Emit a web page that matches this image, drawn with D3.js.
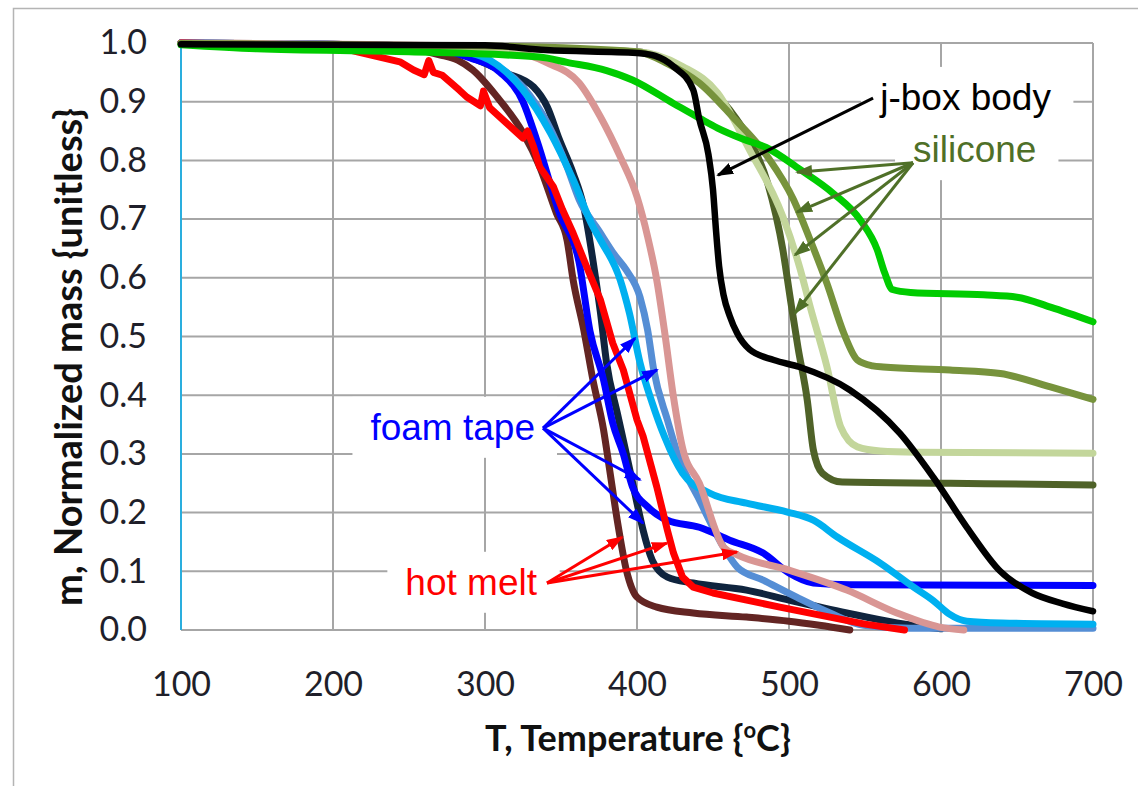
<!DOCTYPE html>
<html>
<head>
<meta charset="utf-8">
<script src="https://cdn.jsdelivr.net/npm/d3@7"></script>
<style>
  body { margin: 0; background: #fff; }
  svg { display: block; }
</style>
</head>
<body>
<div id="chart"></div>
<script>

// constants for plot design
const FRAME_WIDTH = 1138;
const FRAME_HEIGHT = 786;
const MARGINS = {left: 181, right: 45, top: 43, bottom: 156};

const VIS_WIDTH = FRAME_WIDTH - MARGINS.left - MARGINS.right;
const VIS_HEIGHT = FRAME_HEIGHT - MARGINS.top - MARGINS.bottom;

// tick values
const xTicks = [100, 200, 300, 400, 500, 600, 700];
const yTicks = [0, 0.1, 0.2, 0.3, 0.4, 0.5, 0.6, 0.7, 0.8, 0.9, 1.0];

// series: [T in °C, normalized mass]
const siliconeGreen = [[100,0.997],[150,0.99],[250,0.985],[336,0.976],[354,0.967],[380,0.953],[397,0.937],[424,0.897],
  [441,0.872],[453,0.855],[470,0.836],[485,0.822],[507,0.785],[529,0.744],[547,0.698],[558,0.648],[563,0.608],
  [568,0.58],[580,0.575],[628,0.571],[650,0.567],[672,0.55],[700,0.525]];
const siliconeOlive = [[100,0.999],[300,0.995],[400,0.985],[420,0.965],[441,0.932],[463,0.874],[486,0.806],[503,0.733],
  [514,0.664],[525,0.59],[536,0.506],[545,0.46],[555,0.45],[562,0.448],[606,0.443],[639,0.437],[672,0.414],[700,0.393]];
const siliconeLight = [[100,0.999],[400,0.985],[430,0.96],[453,0.915],[474,0.818],[496,0.704],[507,0.618],[514,0.55],
  [525,0.448],[534,0.346],[545,0.312],[560,0.305],[584,0.303],[700,0.301]];
const siliconeDark = [[100,0.999],[400,0.985],[425,0.96],[441,0.937],[461,0.886],[474,0.835],[486,0.761],[496,0.647],
  [501,0.562],[506,0.48],[512,0.392],[516,0.307],[522,0.267],[535,0.252],[606,0.25],[700,0.247]];
const jboxBody = [[100,0.998],[300,0.996],[340,0.988],[400,0.983],[412,0.978],[424,0.96],[437,0.92],[441,0.87],
  [447,0.81],[450,0.75],[452,0.68],[454,0.62],[457,0.57],[461,0.535],[466,0.505],[474,0.478],[490,0.46],[507,0.448],
  [540,0.409],[573,0.335],[595,0.26],[617,0.175],[639,0.1],[660,0.063],[680,0.045],[700,0.032]];
const foamBlue = [[100,1.0],[250,0.995],[290,0.975],[310,0.95],[325,0.9],[334,0.835],[349,0.71],[362,0.625],[369,0.51],
  [378,0.426],[384,0.353],[391,0.3],[397,0.244],[407,0.21],[420,0.187],[441,0.175],[461,0.153],[483,0.131],[500,0.097],
  [516,0.08],[540,0.077],[700,0.076]];
const foamLightBlue = [[100,1.0],[250,0.995],[280,0.988],[303,0.971],[325,0.92],[343,0.847],[358,0.767],[371,0.687],
  [376,0.664],[389,0.596],[395,0.54],[402,0.455],[410,0.387],[418,0.33],[430,0.267],[448,0.233],[472,0.216],[499,0.201],
  [516,0.187],[532,0.158],[560,0.114],[582,0.073],[595,0.05],[605,0.028],[617,0.015],[640,0.012],[700,0.01]];
const foamCornflower = [[100,1.0],[250,0.995],[280,0.985],[299,0.971],[325,0.925],[341,0.864],[354,0.789],[362,0.733],
  [375,0.68],[385,0.64],[393,0.613],[402,0.567],[407,0.511],[411,0.443],[420,0.358],[428,0.29],[440,0.227],[457,0.141],
  [466,0.107],[483,0.085],[505,0.056],[527,0.029],[549,0.008],[580,0.003],[700,0.003]];
const foamNavy = [[100,1.0],[250,0.995],[270,0.99],[290,0.976],[314,0.949],[332,0.925],[341,0.891],[349,0.835],[358,0.778],
  [365,0.72],[371,0.63],[376,0.54],[380,0.455],[387,0.37],[393,0.3],[400,0.216],[404,0.17],[410,0.119],[420,0.09],
  [437,0.08],[472,0.068],[500,0.051],[538,0.029],[571,0.012],[600,0.002]];
const meltRed = [[100,1.0],[200,0.995],[216,0.985],[244,0.968],[253,0.954],[260,0.946],[263,0.97],[266,0.95],[272,0.945],
  [283,0.92],[288,0.908],[297,0.893],[299,0.918],[303,0.89],[314,0.864],[325,0.838],[328,0.85],[332,0.823],[336,0.789],
  [345,0.755],[351,0.716],[358,0.676],[367,0.618],[376,0.562],[384,0.489],[391,0.443],[400,0.358],[404,0.33],[413,0.244],
  [420,0.17],[424,0.131],[430,0.09],[437,0.073],[450,0.063],[494,0.039],[527,0.022],[550,0.01],[576,0.0]];
const meltBrown = [[100,1.0],[200,0.998],[250,0.99],[270,0.98],[282,0.971],[292,0.954],[308,0.908],[325,0.847],[336,0.789],
  [347,0.71],[354,0.664],[358,0.596],[365,0.511],[371,0.426],[378,0.341],[382,0.273],[387,0.187],[393,0.102],[400,0.056],
  [413,0.039],[437,0.029],[472,0.022],[500,0.015],[520,0.008],[540,0.0]];
const meltPink = [[100,1.0],[280,0.995],[315,0.988],[341,0.966],[362,0.932],[376,0.874],[389,0.806],[400,0.738],[407,0.67],
  [413,0.596],[418,0.511],[424,0.397],[430,0.31],[441,0.25],[457,0.141],[466,0.128],[500,0.102],[538,0.068],[571,0.029],
  [599,0.005],[615,0.0]];

// drawing order, bottom to top
const series = [
  {data: foamNavy, color: "#0f243e"},
  {data: meltBrown, color: "#632523"},
  {data: foamCornflower, color: "#558ed5"},
  {data: foamBlue, color: "#0000ff"},
  {data: foamLightBlue, color: "#00b0f0"},
  {data: meltPink, color: "#d99694"},
  {data: meltRed, color: "#ff0000", jagged: true},
  {data: siliconeDark, color: "#4f6228"},
  {data: siliconeLight, color: "#c3d69b"},
  {data: siliconeOlive, color: "#77933c"},
  {data: siliconeGreen, color: "#00cc00"},
  {data: jboxBody, color: "#000000"}
];

// callouts in data coordinates: text anchor + arrow start + arrow tips
const callouts = [
  {text: "foam tape", color: "#0000ff", anchor: "end", at: [332.9, 0.324], from: [338.2, 0.344],
   to: [[398.7, 0.497], [413.2, 0.443], [402, 0.256], [404, 0.182]]},
  {text: "hot melt", color: "#ff0000", anchor: "end", at: [334.2, 0.06], from: [340.8, 0.08],
   to: [[390.1, 0.158], [419.7, 0.148], [465.8, 0.133]]},
  {text: "j-box body", color: "#000000", anchor: "start", at: [560, 0.886], from: [555.3, 0.906],
   to: [[453.3, 0.775]]},
  {text: "silicone", color: "#4f7028", anchor: "start", at: [581.6, 0.797], from: [581.6, 0.796],
   to: [[505.3, 0.78], [505.3, 0.712], [504, 0.639], [504, 0.54]]}
];

// scales
const xScale = d3.scaleLinear().domain([100, 700]).range([0, VIS_WIDTH]);
const yScale = d3.scaleLinear().domain([0, 1]).range([VIS_HEIGHT, 0]);

const svg = d3.select("#chart")
  .append("svg")
    .attr("width", FRAME_WIDTH)
    .attr("height", FRAME_HEIGHT);

// outer chart frame (top and left edges visible)
svg.append("path")
  .attr("d", "M13.5," + FRAME_HEIGHT + "V8.5H" + FRAME_WIDTH)
  .attr("fill", "none")
  .attr("stroke", "#b4b4b4")
  .attr("stroke-width", 1.5);

const plot = svg.append("g")
  .attr("transform", "translate(" + MARGINS.left + "," + MARGINS.top + ")");

// gridlines
plot.append("g")
  .selectAll("line")
  .data(xTicks)
  .join("line")
    .attr("x1", d => xScale(d)).attr("x2", d => xScale(d))
    .attr("y1", 0).attr("y2", VIS_HEIGHT)
    .attr("stroke", "#a6a6a6").attr("stroke-width", 2);

plot.append("g")
  .selectAll("line")
  .data(yTicks)
  .join("line")
    .attr("x1", 0).attr("x2", VIS_WIDTH)
    .attr("y1", d => yScale(d)).attr("y2", d => yScale(d))
    .attr("stroke", "#a6a6a6").attr("stroke-width", 2);

// left axis line
plot.append("line")
  .attr("x1", 0).attr("x2", 0)
  .attr("y1", 0).attr("y2", VIS_HEIGHT)
  .attr("stroke", "#00b0f0").attr("stroke-width", 1.5);

// axes (labels only)
const xAxis = plot.append("g")
  .attr("transform", "translate(0," + VIS_HEIGHT + ")")
  .call(d3.axisBottom(xScale).tickValues(xTicks).tickSize(0).tickPadding(42).tickFormat(d3.format("d")));
const yAxis = plot.append("g")
  .call(d3.axisLeft(yScale).tickValues(yTicks).tickSize(0).tickPadding(34).tickFormat(d3.format(".1f")));

[xAxis, yAxis].forEach(ax => {
  ax.select(".domain").remove();
  ax.selectAll("text")
    .attr("font-family", "Lato, 'Open Sans', sans-serif")
    .attr("font-size", "34px")
    .attr("fill", "#1f1f2a");
});

// axis titles
const xTitle = svg.append("text")
  .attr("x", 638).attr("y", 751)
  .attr("text-anchor", "middle")
  .attr("font-family", "Lato, 'Open Sans', sans-serif")
  .attr("font-weight", "bold")
  .attr("font-size", "36px")
  .attr("fill", "#111");
xTitle.append("tspan").text("T, Temperature {");
xTitle.append("tspan").attr("font-size", "22px").attr("dy", -13).text("o");
xTitle.append("tspan").attr("dy", 13).text("C}");

svg.append("text")
  .attr("transform", "translate(82,357) rotate(-90)")
  .attr("text-anchor", "middle")
  .attr("font-family", "Lato, 'Open Sans', sans-serif")
  .attr("font-weight", "bold")
  .attr("font-size", "38px")
  .attr("fill", "#111")
  .text("m, Normalized mass {unitless}");

// white boxes behind the callout texts
const boxLayer = plot.append("g");

// data lines
const smoothLine = d3.line()
  .x(d => xScale(d[0]))
  .y(d => yScale(d[1]))
  .curve(d3.curveMonotoneX);
const rawLine = d3.line()
  .x(d => xScale(d[0]))
  .y(d => yScale(d[1]));

plot.append("g")
  .selectAll("path")
  .data(series)
  .join("path")
    .attr("d", d => (d.jagged ? rawLine : smoothLine)(d.data))
    .attr("fill", "none")
    .attr("stroke", d => d.color)
    .attr("stroke-width", d => d.color === "#000000" ? 6.5 : 7)
    .attr("stroke-linejoin", "round")
    .attr("stroke-linecap", "round");

// arrowheads
const defs = svg.append("defs");
callouts.forEach((c, i) => {
  defs.append("marker")
    .attr("id", "head" + i)
    .attr("markerUnits", "userSpaceOnUse")
    .attr("markerWidth", 17).attr("markerHeight", 12)
    .attr("refX", 15).attr("refY", 6)
    .attr("orient", "auto")
    .append("path")
      .attr("d", "M0,0L17,6L0,12Z")
      .attr("fill", c.color);
});

// callouts
const calloutLayer = plot.append("g");
callouts.forEach((c, i) => {
  const t = calloutLayer.append("text")
    .attr("x", xScale(c.at[0]))
    .attr("y", yScale(c.at[1]))
    .attr("text-anchor", c.anchor)
    .attr("font-family", "'Liberation Sans', Arial, sans-serif")
    .attr("font-size", "37px")
    .attr("fill", c.color)
    .text(c.text);
  const bb = t.node().getBBox();
  boxLayer.append("rect")
    .attr("x", bb.x - 18).attr("y", bb.y - 10)
    .attr("width", bb.width + 40).attr("height", bb.height + 20)
    .attr("fill", "#fff");
  calloutLayer.selectAll(null)
    .data(c.to)
    .join("line")
      .attr("x1", xScale(c.from[0])).attr("y1", yScale(c.from[1]))
      .attr("x2", d => xScale(d[0])).attr("y2", d => yScale(d[1]))
      .attr("stroke", c.color)
      .attr("stroke-width", 3)
      .attr("marker-end", "url(#head" + i + ")");
});

</script>
</body>
</html>
